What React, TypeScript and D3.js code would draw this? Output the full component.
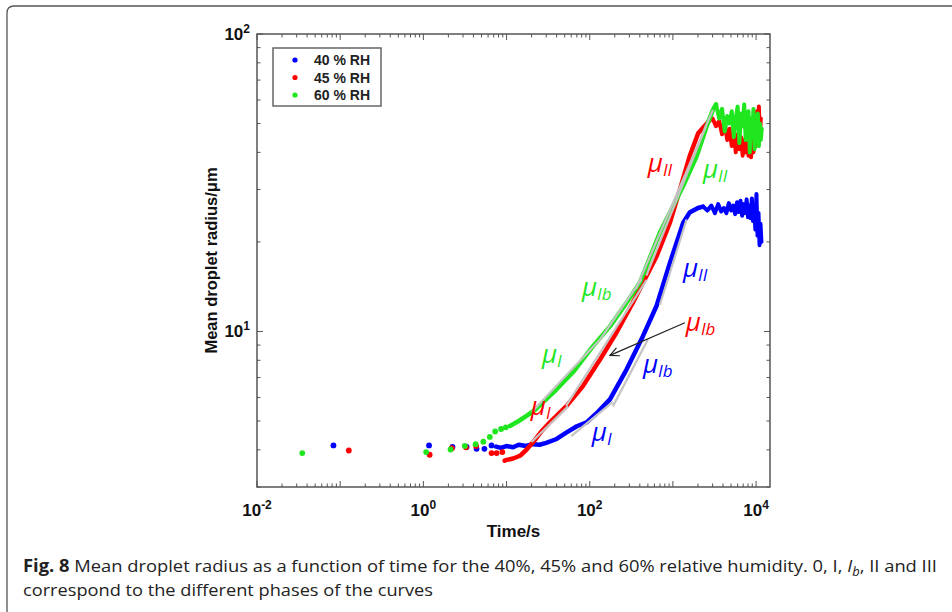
import React from "react";
import * as d3 from "d3";

// ---------- data (time in s, mean droplet radius in µm) ----------
const seriesNames = ["40 % RH", "45 % RH", "60 % RH"];
const seriesColors = ["#0000ff", "#ff0000", "#1fe61f"];

// sparse early points
const rh40Dots = [[0.083, 4.14], [1.17, 4.14], [2.24, 4.09], [3.31, 4.09], [4.36, 4.03], [5.42, 4.03], [6.6, 4.14]];
const rh45Dots = [[0.127, 3.98], [1.19, 3.85], [2.2, 4.05], [3.25, 4.08], [4.3, 4.12], [6.6, 3.9], [7.6, 3.9], [8.9, 3.93]];
const rh60Dots = [[0.035, 3.9], [1.08, 3.93], [2.12, 4.01], [3.15, 4.12], [4.24, 4.18], [5.26, 4.26], [6.3, 4.42], [7.3, 4.61], [8.6, 4.7], [9.8, 4.76]];

// dense growth curves
const rh40Curve = [[7.5, 4.1], [8.5, 4.06], [10, 4.12], [12, 4.08], [14, 4.16], [17, 4.12], [20.8, 4.18], [25, 4.16], [30, 4.22], [40, 4.35], [52.8, 4.58], [70, 4.8], [91.8, 4.95], [120, 5.3], [175, 5.91], [278, 7.46], [436, 9.64], [637, 12.2], [920, 17.0], [1330, 23.2], [1588, 25.1], [2000, 26], [2300, 26.3]];
const rh45Curve = [[9.5, 3.68], [10, 3.7], [12, 3.74], [14.5, 3.82], [17, 3.98], [20.8, 4.24], [26, 4.6], [33.2, 4.95], [52.8, 5.62], [82.8, 6.55], [133, 8.05], [210, 9.92], [330, 12.5], [637, 17.9], [920, 23.2], [1213, 30], [1588, 38.8], [2014, 46.4], [2786, 51.4]];
const rh60Curve = [[11, 4.81], [14, 5.0], [17.4, 5.2], [22, 5.45], [27.4, 5.78], [40, 6.39], [62.8, 7.29], [109, 8.91], [175, 10.4], [278, 12.5], [401, 14.6], [698, 21.5], [920, 25.1], [1318, 30.7], [1928, 38.8], [2543, 48.9], [3027, 55.6], [3300, 58]];

// noisy plateaus (phase III)
const rh40Plateau = [[2600, 25.5], [2900, 26.5], [3200, 25], [3500, 26.8], [3800, 25.3], [4100, 26], [4400, 25], [4700, 27], [5000, 25.5], [5300, 26.5], [5600, 24.8], [5900, 27.2], [6200, 25.2], [6500, 27.5], [6800, 24.5], [7100, 26.8], [7400, 25], [7700, 27.8], [8000, 24.2], [8300, 26.5], [8600, 24], [8900, 28], [9200, 23.5], [9500, 26], [9800, 22], [10100, 29], [10400, 21], [10700, 25], [11000, 19.5], [11300, 23], [11600, 20]];
const rh45Plateau = [[3000, 52], [3300, 49], [3600, 51], [3900, 46], [4200, 50], [4500, 44], [4800, 48], [5100, 42], [5400, 47], [5700, 40], [6000, 46], [6300, 41], [6600, 45], [6900, 39], [7200, 44], [7500, 40], [7800, 47], [8100, 39], [8400, 43], [8700, 38.5], [9000, 46], [9300, 40], [9600, 48], [9900, 42], [10200, 55], [10500, 44], [10800, 57], [11100, 45], [11400, 52]];
const rh60Plateau = [[3600, 52], [3900, 56], [4200, 47], [4500, 53], [4800, 50], [5100, 55], [5400, 45], [5700, 52], [6000, 57], [6300, 43], [6600, 54], [6900, 49], [7200, 58], [7500, 44], [7800, 51], [8100, 55], [8400, 40], [8700, 52], [9000, 47], [9300, 56], [9600, 41], [9900, 53], [10200, 45], [10500, 54], [10800, 42], [11100, 50], [11400, 44], [11700, 48]];

// fitted segments [t0, r0, t1, r1]
const rh40Fits = [[60, 4.45, 190, 5.8], [190, 5.6, 500, 9.4], [698, 12.3, 1461, 23.8]];
const rh45Fits = [[20, 4.25, 55, 5.6], [52, 5.62, 483, 14.9], [480, 15.4, 2500, 49]];
const rh60Fits = [[20, 5.35, 130, 9.35], [130, 9.3, 420, 15.0], [360, 13.9, 3027, 55.6]];

// phase labels [t, r, subscript, series index]
const phaseLabels = [
  [500, 34.4, "II", 1], [2294, 32.9, "II", 2], [1318, 15.2, "II", 0],
  [80.5, 13.2, "Ib", 2], [1432, 10, "Ib", 1], [436, 7.23, "Ib", 0],
  [26.6, 7.81, "I", 2], [19.6, 5.23, "I", 1], [106, 4.27, "I", 0],
];
const arrowFrom = [1393, 10.7];
const arrowTo = [175, 8.31];

const xTickExps = [-2, 0, 2, 4];
const yTickExps = [1, 2];

export default function App() {
  const x = d3.scaleLog().domain([0.01, 14700]).range([257, 770]);
  const y = d3.scaleLog().domain([3, 100]).range([487, 34]);
  const line = d3.line<number[]>().x((d) => x(d[0])).y((d) => y(d[1]));

  const dots = [rh40Dots, rh45Dots, rh60Dots];
  const curves = [rh40Curve, rh45Curve, rh60Curve];
  const plateaus = [rh40Plateau, rh45Plateau, rh60Plateau];
  const fits = [rh40Fits, rh45Fits, rh60Fits];

  const xMinor: { v: number; major: boolean }[] = [];
  for (let e = -2; e <= 4; e++) for (let k = 1; k <= 9; k++) {
    const v = k * Math.pow(10, e);
    if (v >= 0.01 && v <= 14700) xMinor.push({ v, major: k === 1 });
  }
  const yMinor: { v: number; major: boolean }[] = [];
  for (let e = 0; e <= 2; e++) for (let k = 1; k <= 9; k++) {
    const v = k * Math.pow(10, e);
    if (v >= 3 && v <= 100) yMinor.push({ v, major: k === 1 });
  }

  const [X0, X1] = x.range();
  const [Y0, Y1] = y.range();
  const axisColor = "#555";

  const ax1 = x(arrowFrom[0]), ay1 = y(arrowFrom[1]);
  const ax2 = x(arrowTo[0]), ay2 = y(arrowTo[1]);
  const ang = Math.atan2(ay2 - ay1, ax2 - ax1);
  const ah = 10, aw = 0.45;
  const head = `M${ax2 - ah * Math.cos(ang - aw)},${ay2 - ah * Math.sin(ang - aw)} L${ax2},${ay2} L${ax2 - ah * Math.cos(ang + aw)},${ay2 - ah * Math.sin(ang + aw)}`;

  return (
    <svg width={952} height={612} style={{ position: "absolute", left: 0, top: 0, background: "#fff" }}>
      {/* figure frame */}
      <path d="M7,640 L7,13 Q7,6 14,6 L980,6" fill="none" stroke="#555" strokeWidth={1.3} />

      {/* data */}
      {[0, 1, 2].map((i) => (
        <g key={i}>
          {dots[i].map((d, j) => (
            <circle key={j} cx={x(d[0])} cy={y(d[1])} r={2.9} fill={seriesColors[i]} />
          ))}
          <path d={line(curves[i]) || ""} fill="none" stroke={seriesColors[i]} strokeWidth={4.5} strokeLinejoin="round" strokeLinecap="round" />
          <path d={line([curves[i][curves[i].length - 1], ...plateaus[i]]) || ""} fill="none" stroke={seriesColors[i]} strokeWidth={4} strokeLinejoin="round" strokeLinecap="round" />
        </g>
      ))}
      {[0, 1, 2].map((i) => (
        <g key={"f" + i}>
          {fits[i].map((f, j) => (
            <line key={j} x1={x(f[0])} y1={y(f[1])} x2={x(f[2])} y2={y(f[3])} stroke="#c4c4c4" strokeWidth={2.2} />
          ))}
        </g>
      ))}

      {/* phase labels */}
      {phaseLabels.map((p, j) => (
        <text key={j} x={x(p[0] as number)} y={y(p[1] as number)} fill={seriesColors[p[3] as number]}
          fontFamily="'Open Sans', sans-serif" fontStyle="italic">
          <tspan fontSize={26}>μ</tspan>
          <tspan fontSize={17} dy={4}>{p[2] as string}</tspan>
        </text>
      ))}
      <line x1={ax1} y1={ay1} x2={ax2} y2={ay2} stroke="#222" strokeWidth={1.2} />
      <path d={head} fill="none" stroke="#222" strokeWidth={1.2} />

      {/* axes box */}
      <rect x={X0} y={Y1} width={X1 - X0} height={Y0 - Y1} fill="none" stroke={axisColor} strokeWidth={1.5} />
      {xMinor.map((t, j) => {
        const px = x(t.v), len = t.major ? 6 : 3.5;
        return (
          <g key={"xt" + j}>
            <line x1={px} x2={px} y1={Y0} y2={Y0 - len} stroke={axisColor} strokeWidth={1} />
            <line x1={px} x2={px} y1={Y1} y2={Y1 + len} stroke={axisColor} strokeWidth={1} />
          </g>
        );
      })}
      {yMinor.map((t, j) => {
        const py = y(t.v), len = t.major ? 6 : 3.5;
        return (
          <g key={"yt" + j}>
            <line x1={X0} x2={X0 + len} y1={py} y2={py} stroke={axisColor} strokeWidth={1} />
            <line x1={X1} x2={X1 - len} y1={py} y2={py} stroke={axisColor} strokeWidth={1} />
          </g>
        );
      })}
      {xTickExps.map((e) => (
        <text key={"xl" + e} x={x(Math.pow(10, e))} y={516} textAnchor="middle" fontFamily="'Liberation Sans', Arial, sans-serif" fontWeight="bold" fontSize={17} fill="#111">
          <tspan>10</tspan>
          <tspan fontSize={12} dy={-7}>{String(e)}</tspan>
        </text>
      ))}
      {yTickExps.map((e) => (
        <text key={"yl" + e} x={250} y={y(Math.pow(10, e)) + 6} textAnchor="end" fontFamily="'Liberation Sans', Arial, sans-serif" fontWeight="bold" fontSize={17} fill="#111">
          <tspan>10</tspan>
          <tspan fontSize={12} dy={-7}>{String(e)}</tspan>
        </text>
      ))}
      <text x={(X0 + X1) / 2} y={537} textAnchor="middle" fontFamily="'Liberation Sans', Arial, sans-serif" fontWeight="bold" fontSize={17} fill="#111">Time/s</text>
      <text transform={`translate(217,${(Y0 + Y1) / 2}) rotate(-90)`} textAnchor="middle" fontFamily="'Liberation Sans', Arial, sans-serif" fontWeight="bold" fontSize={16.5} fill="#111">Mean droplet radius/μm</text>

      {/* legend */}
      <rect x={273} y={48} width={108} height={58} fill="#fff" stroke="#666" strokeWidth={1.5} />
      {seriesNames.map((n, i) => (
        <g key={n}>
          <circle cx={295} cy={60 + i * 17.5} r={2.6} fill={seriesColors[i]} />
          <text x={314} y={65 + i * 17.5} fontFamily="'Liberation Sans', Arial, sans-serif" fontWeight="bold" fontSize={14} fill="#222">{n}</text>
        </g>
      ))}

      {/* caption */}
      <text x={23} y={572} fontFamily="'Open Sans', sans-serif" fontSize={17} fill="#222" textLength={914} lengthAdjust="spacingAndGlyphs">
        <tspan fontWeight="bold">Fig. 8</tspan>
        <tspan>{"  Mean droplet radius as a function of time for the 40%, 45% and 60% relative humidity. 0, I, "}</tspan>
        <tspan fontStyle="italic">I</tspan>
        <tspan fontStyle="italic" fontSize={12} dy={4}>b</tspan>
        <tspan dy={-4}>, II and III</tspan>
      </text>
      <text x={23} y={596} fontFamily="'Open Sans', sans-serif" fontSize={17} fill="#222" textLength={410} lengthAdjust="spacingAndGlyphs">correspond to the different phases of the curves</text>
    </svg>
  );
}
